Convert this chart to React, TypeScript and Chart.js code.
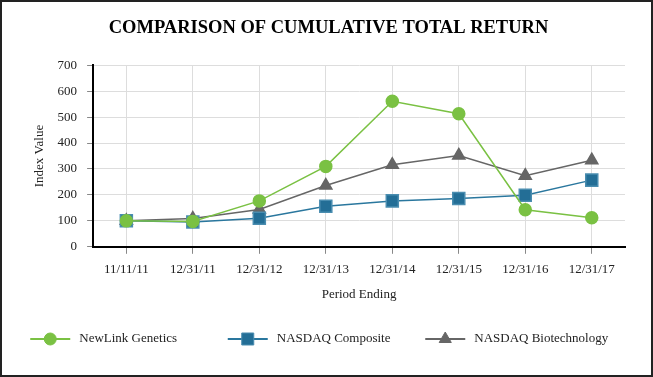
import React, { useEffect, useRef } from "react";
import { Chart, registerables } from "chart.js";
import { drawPoint } from "chart.js/helpers";

Chart.register(...registerables);

const titleText = "COMPARISON OF CUMULATIVE TOTAL RETURN";
const categories = ["11/11/11", "12/31/11", "12/31/12", "12/31/13", "12/31/14", "12/31/15", "12/31/16", "12/31/17"];
const newLinkGenetics = [100, 98, 177, 310, 561, 513, 143, 112];
const nasdaqComposite = [100, 96, 110, 156, 177, 186, 199, 257];
const nasdaqBiotechnology = [100, 109, 144, 236, 316, 352, 274, 334];
const yMin = 0;
const yMax = 700;
const yStep = 100;

const SERIF = "'Liberation Serif', 'Times New Roman', serif";

const framePlugin = {
  id: "frameAndLegend",
  afterDraw(chart: any) {
    const ctx = chart.ctx as CanvasRenderingContext2D;
    ctx.save();
    // outer frame
    ctx.strokeStyle = "#222";
    ctx.lineWidth = 2;
    ctx.strokeRect(1, 1, chart.width - 2, chart.height - 2);

    // legend: fixed-width slots, centred
    ctx.font = "13px " + SERIF;
    const lineLen = 40;
    const textGap = 9;
    const slot = 197.5;
    const ds = chart.data.datasets;
    const total = slot * ds.length;
    let x = (chart.width - total) / 2;
    const y = 339;
    ds.forEach((d: any) => {
      ctx.strokeStyle = d.borderColor;
      ctx.lineWidth = 2;
      ctx.beginPath();
      ctx.moveTo(x, y);
      ctx.lineTo(x + lineLen, y);
      ctx.stroke();
      ctx.fillStyle = d.pointBackgroundColor;
      ctx.strokeStyle = d.pointBorderColor;
      ctx.lineWidth = 1;
      drawPoint(ctx, { pointStyle: d.pointStyle, radius: d.pointRadius, rotation: 0, borderWidth: 1 } as any, x + lineLen / 2, y);
      ctx.fillStyle = "#222";
      ctx.textBaseline = "middle";
      ctx.textAlign = "left";
      ctx.fillText(d.label, x + lineLen + textGap, y);
      x += slot;
    });
    ctx.restore();
  },
};

export default function App() {
  const ref = useRef<HTMLCanvasElement>(null);
  useEffect(() => {
    if (!ref.current) return;
    const font = { family: SERIF, size: 13 };
    const chart = new Chart(ref.current, {
      type: "line",
      data: {
        labels: categories,
        datasets: [
          {
            label: "NewLink Genetics",
            data: newLinkGenetics,
            borderColor: "#7AC143",
            backgroundColor: "#7AC143",
            pointBackgroundColor: "#7AC143",
            pointBorderColor: "#7AC143",
            borderWidth: 1.5,
            pointStyle: "circle",
            pointRadius: 6,
          },
          {
            label: "NASDAQ Composite",
            data: nasdaqComposite,
            borderColor: "#2A779E",
            backgroundColor: "#236E96",
            pointBackgroundColor: "#236E96",
            pointBorderColor: "#4A8DB0",
            borderWidth: 1.5,
            pointStyle: "rect",
            pointRadius: 8.5,
          },
          {
            label: "NASDAQ Biotechnology",
            data: nasdaqBiotechnology,
            borderColor: "#666666",
            backgroundColor: "#666666",
            pointBackgroundColor: "#666666",
            pointBorderColor: "#666666",
            borderWidth: 1.5,
            pointStyle: "triangle",
            pointRadius: 7,
          },
        ] as any,
      },
      options: {
        animation: false,
        responsive: true,
        maintainAspectRatio: false,
        layout: { padding: { left: 32, right: 28, top: 0, bottom: 75 } },
        plugins: {
          legend: { display: false },
          tooltip: { enabled: false },
          title: {
            display: true,
            text: titleText,
            color: "#000",
            font: { family: SERIF, size: 18.5, weight: "bold" },
            padding: { top: 17, bottom: 26 },
          },
        },
        scales: {
          x: {
            offset: true,
            grid: { color: "#dddddd", tickColor: "#888", tickLength: 7, lineWidth: 1 },
            border: { color: "#000", width: 2 },
            ticks: { font, color: "#222", padding: 8, maxRotation: 0, autoSkip: false },
            title: { display: true, text: "Period Ending", font, color: "#222", padding: { top: 1, bottom: 0 } },
          },
          y: {
            min: yMin,
            max: yMax,
            grid: { color: "#dddddd", tickColor: "#888", tickLength: 6, lineWidth: 1 },
            border: { color: "#000", width: 2 },
            ticks: { stepSize: yStep, font, color: "#222", padding: 10 },
            title: { display: true, text: "Index Value", font, color: "#222", padding: { top: 0, bottom: 0 } },
          },
        },
      },
      plugins: [framePlugin],
    });
    return () => chart.destroy();
  }, []);
  return (
    <div style={{ position: "absolute", left: 0, top: 0, width: 653, height: 377, background: "#fff" }}>
      <canvas ref={ref} />
    </div>
  );
}
